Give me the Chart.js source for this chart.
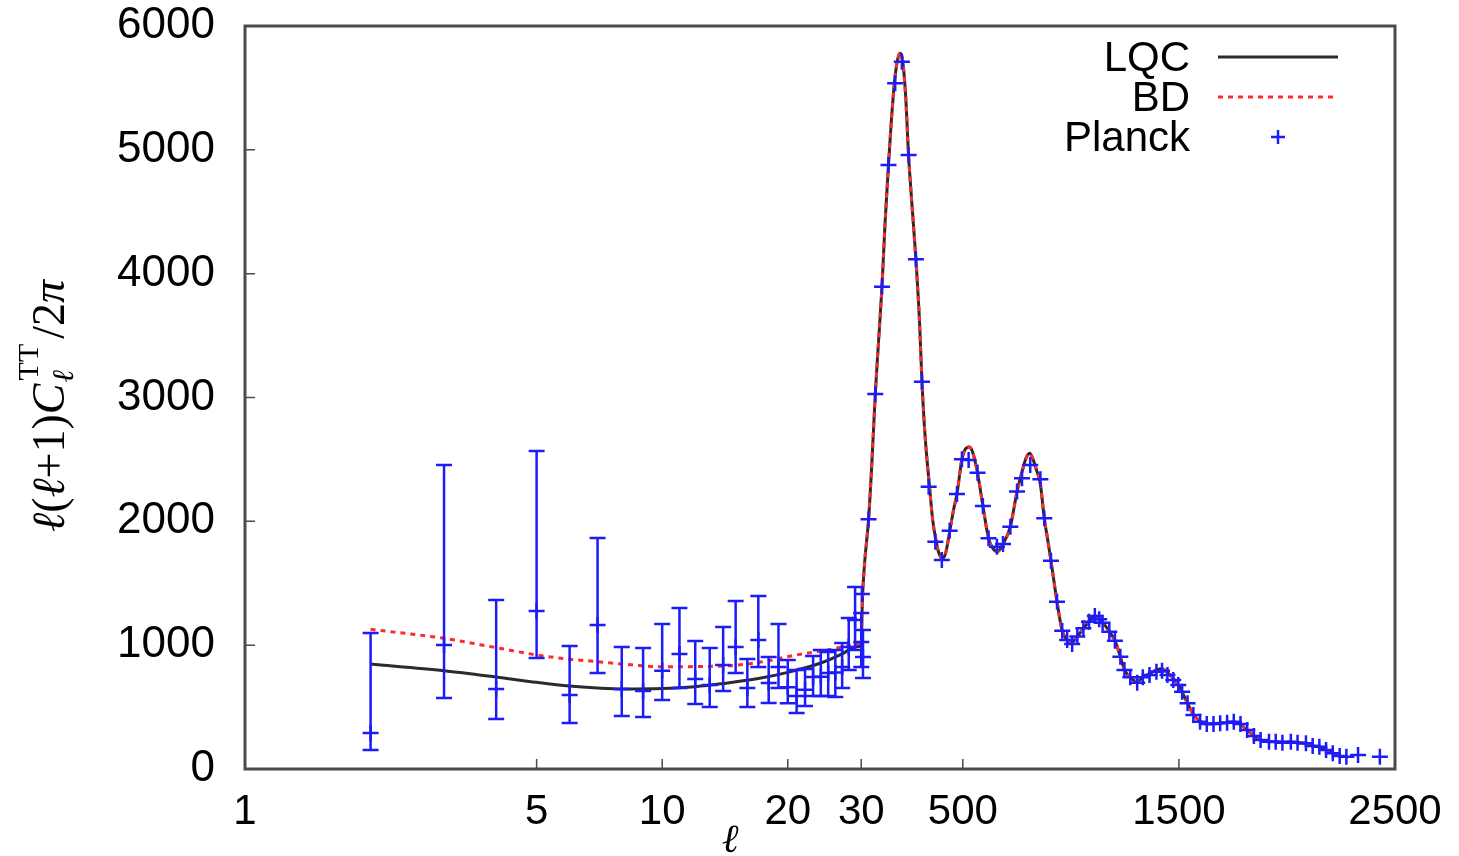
<!DOCTYPE html>
<html>
<head>
<meta charset="utf-8">
<title>TT power spectrum: LQC vs BD vs Planck</title>
<script src="https://cdn.jsdelivr.net/npm/chart.js@4.4.0/dist/chart.umd.min.js"></script>
<style>
  html, body { margin: 0; padding: 0; background: #ffffff; }
  #wrap { width: 1459px; height: 856px; }
</style>
</head>
<body>
<div id="wrap"><canvas id="clChart" width="1459" height="856"></canvas></div>
<script>
// ---- data ----
// low-l Planck points with asymmetric error bars
const lowEll   = [2, 3, 4, 5, 6, 7, 8, 9, 10, 11, 12, 13, 14, 15, 16, 17, 18, 19, 20, 21, 22, 23, 24, 25, 26, 27, 28, 29, 30, 38];
const lowVal   = [291, 1001, 646, 1276, 598, 1163, 646, 630, 793, 929, 727, 678, 840, 985, 654, 1042, 694, 824, 660, 590, 640, 743, 745, 775, 780, 824, 985, 1203, 1026, 904];
const lowErrLo = [153, 573, 404, 896, 371, 775, 428, 420, 557, 654, 525, 501, 630, 775, 501, 824, 533, 654, 530, 452, 509, 590, 590, 590, 581, 654, 800, 961, 824, 735];
const lowErrHi = [1098, 2455, 1365, 2568, 993, 1865, 985, 977, 1171, 1300, 1034, 977, 1147, 1357, 888, 1397, 904, 1171, 880, 800, 808, 913, 961, 945, 961, 1017, 1219, 1470, 1260, 1123];

// binned high-l Planck points
const highEll = [33, 64, 95, 126, 156, 187, 218, 249, 283, 311, 342, 373, 403, 439, 473, 496, 527, 568, 593, 619, 658, 686, 720, 751, 774, 812, 859, 877, 908, 936, 960, 983, 1006, 1030, 1058, 1084, 1111, 1131, 1147, 1178, 1204, 1229, 1248, 1275, 1307, 1333, 1364, 1396, 1422, 1447, 1474, 1497, 1515, 1540, 1567, 1598, 1629, 1660, 1691, 1723, 1754, 1785, 1816, 1847, 1878, 1917, 1948, 1979, 2018, 2049, 2088, 2119, 2150, 2181, 2212, 2244, 2275, 2329, 2430];
const highVal = [1413, 2016, 3028, 3895, 4878, 5537, 5712, 4958, 4116, 3128, 2280, 1836, 1688, 1924, 2221, 2501, 2495, 2393, 2124, 1863, 1795, 1817, 1957, 2240, 2348, 2455, 2340, 2024, 1682, 1351, 1117, 1042, 1009, 1069, 1136, 1190, 1236, 1209, 1182, 1109, 1036, 907, 800, 740, 697, 740, 759, 786, 794, 759, 719, 678, 624, 530, 436, 382, 363, 363, 369, 374, 382, 363, 315, 266, 234, 220, 220, 212, 220, 212, 207, 186, 180, 153, 127, 105, 99, 113, 99];

// model curves below l = 30 (where they differ)
const lqcEll = [2, 3, 4, 5, 6, 7, 8, 10, 12, 14, 17, 20, 24, 27, 29, 30];
const lqcVal = [848, 794, 743, 700, 670, 654, 646, 650, 665, 690, 730, 780, 856, 930, 985, 1000];
const bdEll  = [2, 3, 4, 5, 6, 7, 8, 10, 14, 17, 21, 25, 28, 30];
const bdVal  = [1128, 1055, 980, 921, 886, 867, 848, 826, 832, 860, 921, 961, 993, 1042];

// shared model curve above l = 30
const modelEll = [35, 45, 64, 80, 95, 110, 126, 140, 156, 170, 187, 200, 210, 220, 235, 249, 265, 283, 300, 311, 325, 346, 360, 377, 390, 405, 420, 440, 458, 473, 496, 515, 530, 545, 568, 593, 619, 640, 660, 686, 720, 751, 774, 795, 810, 825, 840, 859, 877, 893, 908, 936, 960, 983, 1000, 1030, 1058, 1084, 1111, 1131, 1150, 1178, 1204, 1229, 1248, 1275, 1307, 1333, 1364, 1396, 1422, 1447, 1474, 1497, 1515, 1540, 1567, 1598, 1629, 1660, 1691, 1723, 1754, 1785, 1816, 1847, 1878, 1917, 1948, 1979, 2018, 2049, 2088, 2119, 2150, 2181, 2212, 2244];
const modelVal = [1350, 1650, 2016, 2500, 3028, 3450, 3895, 4400, 4878, 5250, 5600, 5740, 5780, 5740, 5450, 4958, 4550, 4116, 3600, 3128, 2700, 2280, 2020, 1836, 1740, 1700, 1740, 1924, 2100, 2221, 2501, 2590, 2600, 2560, 2393, 2124, 1863, 1780, 1755, 1817, 1957, 2240, 2400, 2520, 2550, 2500, 2420, 2300, 2024, 1850, 1682, 1351, 1117, 1042, 1015, 1069, 1136, 1190, 1236, 1220, 1180, 1109, 1036, 907, 800, 740, 705, 740, 770, 800, 810, 780, 730, 680, 620, 530, 440, 385, 365, 365, 370, 378, 380, 360, 315, 270, 235, 220, 220, 215, 218, 212, 205, 188, 178, 155, 130, 110];

// axis ticks
const xTickEll    = [1, 5, 10, 20, 30, 500, 1500, 2500];
const xTickLabels = ['1', '5', '10', '20', '30', '500', '1500', '2500'];
const yTicks      = [0, 1000, 2000, 3000, 4000, 5000, 6000];

// ---- axis: log up to l=30, linear beyond ----
const LOG_END = 30;
const DECADES_PER_ELL = 0.216 / 417;
function ellToAxis(l) {
    return l <= LOG_END ? Math.log10(l) : Math.log10(LOG_END) + (l - LOG_END) * DECADES_PER_ELL;
}
function toPoints(ells, vals) {
    return ells.map((l, i) => ({ x: ellToAxis(l), y: vals[i] }));
}

const PLANCK_BLUE = 'rgb(28, 28, 250)';
const LQC_COLOR = '#2b2b2b';
const BD_COLOR = '#ff2a2a';
const SANS = '"Liberation Sans", Arial, Helvetica, sans-serif';
const SERIF = '"Liberation Serif", "DejaVu Serif", "Times New Roman", serif';

const planckPoints = toPoints(lowEll, lowVal).concat(toPoints(highEll, highVal));
const lqcPoints = toPoints(lqcEll, lqcVal).concat(toPoints(modelEll, modelVal));
const bdPoints = toPoints(bdEll, bdVal).concat(toPoints(modelEll, modelVal));

// error bars on the low-l points
const errorBars = {
    id: 'errorBars',
    afterDatasetsDraw(chart) {
        const { ctx, scales: { x, y } } = chart;
        ctx.save();
        ctx.strokeStyle = PLANCK_BLUE;
        ctx.lineWidth = 2.5;
        lowEll.forEach((l, i) => {
            const px = x.getPixelForValue(ellToAxis(l));
            const top = y.getPixelForValue(lowErrHi[i]);
            const bot = y.getPixelForValue(lowErrLo[i]);
            ctx.beginPath();
            ctx.moveTo(px, top); ctx.lineTo(px, bot);
            ctx.moveTo(px - 8, top); ctx.lineTo(px + 8, top);
            ctx.moveTo(px - 8, bot); ctx.lineTo(px + 8, bot);
            ctx.stroke();
        });
        ctx.restore();
    }
};

// gnuplot-like frame with inward ticks, axis titles and key
const frameAndKey = {
    id: 'frameAndKey',
    afterDraw(chart) {
        const { ctx, chartArea: a, scales: { x, y } } = chart;
        ctx.save();

        // frame
        ctx.strokeStyle = '#4a4a4a';
        ctx.lineWidth = 3;
        ctx.strokeRect(a.left, a.top, a.right - a.left, a.bottom - a.top);

        // inward ticks
        ctx.lineWidth = 1.5;
        ctx.beginPath();
        xTickEll.slice(1, -1).forEach(l => {
            const px = x.getPixelForValue(ellToAxis(l));
            ctx.moveTo(px, a.bottom); ctx.lineTo(px, a.bottom - 10);
        });
        yTicks.slice(1, -1).forEach(v => {
            const py = y.getPixelForValue(v);
            ctx.moveTo(a.left, py); ctx.lineTo(a.left + 10, py);
        });
        ctx.stroke();

        // x title
        ctx.fillStyle = '#000';
        ctx.font = 'italic 40px ' + SERIF;
        ctx.textAlign = 'center';
        ctx.textBaseline = 'alphabetic';
        ctx.fillText('\u2113', 730, 852);

        // y title, rotated, with sub/superscript
        const big = 46, small = 30;
        const it = s => 'italic ' + s + 'px ' + SERIF;
        const rm = s => s + 'px ' + SERIF;
        const pieces = [
            { t: '\u2113', f: it(big) }, { t: '(', f: rm(big) }, { t: '\u2113', f: it(big) },
            { t: '+1)', f: rm(big) }, { t: 'C', f: it(big) }
        ];
        const tail = [{ t: '/2', f: rm(big) }, { t: '\u03c0', f: it(big) }];
        const widthOf = p => { ctx.font = p.f; return ctx.measureText(p.t).width; };
        ctx.font = it(small); const subW = ctx.measureText('\u2113').width;
        ctx.font = rm(small); const supW = ctx.measureText('TT').width;
        const scriptW = Math.max(subW, supW) + 8;
        const total = pieces.reduce((s, p) => s + widthOf(p), 0) + scriptW + tail.reduce((s, p) => s + widthOf(p), 0);
        ctx.translate(64, 406);
        ctx.rotate(-Math.PI / 2);
        ctx.textAlign = 'left';
        let cx = -total / 2;
        pieces.forEach(p => { ctx.font = p.f; ctx.fillText(p.t, cx, 0); cx += ctx.measureText(p.t).width; });
        ctx.font = it(small); ctx.fillText('\u2113', cx + 1, 9);
        ctx.font = rm(small); ctx.fillText('TT', cx + 3, -26);
        cx += scriptW;
        tail.forEach(p => { ctx.font = p.f; ctx.fillText(p.t, cx, 0); cx += ctx.measureText(p.t).width; });
        ctx.setTransform(1, 0, 0, 1, 0, 0);

        // key (top right, text right-aligned, sample to the right)
        const keyTextRight = 1190, sampleL = 1218, sampleR = 1338;
        const rows = [57, 97, 137];
        ctx.font = '42px ' + SANS;
        ctx.textAlign = 'right';
        ctx.textBaseline = 'middle';
        ctx.fillStyle = '#000';
        chart.data.datasets.forEach(ds => {
            const row = rows[ds.keyRow];
            ctx.fillText(ds.label, keyTextRight, row + 2);
            ctx.beginPath();
            ctx.strokeStyle = ds.borderColor;
            if (ds.showLine === false) {
                const cxp = (sampleL + sampleR) / 2;
                ctx.lineWidth = 2.5;
                ctx.setLineDash([]);
                ctx.moveTo(cxp - 7, row); ctx.lineTo(cxp + 7, row);
                ctx.moveTo(cxp, row - 7); ctx.lineTo(cxp, row + 7);
            } else {
                ctx.lineWidth = 3;
                ctx.setLineDash(ds.borderDash || []);
                ctx.moveTo(sampleL, row); ctx.lineTo(sampleR, row);
            }
            ctx.stroke();
        });
        ctx.restore();
    }
};

const ctx = document.getElementById('clChart').getContext('2d');
new Chart(ctx, {
    type: 'scatter',
    data: {
        datasets: [
            {
                label: 'Planck',
                keyRow: 2,
                data: planckPoints,
                showLine: false,
                pointStyle: 'cross',
                pointRadius: 8,
                pointBorderWidth: 2.5,
                borderColor: PLANCK_BLUE,
                backgroundColor: PLANCK_BLUE
            },
            {
                label: 'BD',
                keyRow: 1,
                data: bdPoints,
                showLine: true,
                borderColor: BD_COLOR,
                borderWidth: 3,
                borderDash: [5, 5],
                pointRadius: 0,
                cubicInterpolationMode: 'monotone'
            },
            {
                label: 'LQC',
                keyRow: 0,
                data: lqcPoints,
                showLine: true,
                borderColor: LQC_COLOR,
                borderWidth: 3,
                pointRadius: 0,
                cubicInterpolationMode: 'monotone'
            }
        ]
    },
    options: {
        responsive: false,
        animation: false,
        layout: { padding: { left: 0, top: 26, right: 64, bottom: 0 } },
        plugins: {
            legend: { display: false },
            tooltip: { enabled: false }
        },
        scales: {
            x: {
                type: 'linear',
                min: ellToAxis(1),
                max: ellToAxis(2500),
                grid: { display: false, drawTicks: false },
                border: { display: false },
                afterBuildTicks: scale => { scale.ticks = xTickEll.map(l => ({ value: ellToAxis(l) })); },
                afterFit: scale => { scale.height = 87; scale.paddingLeft = 0; scale.paddingRight = 0; },
                ticks: {
                    autoSkip: false,
                    maxRotation: 0,
                    padding: 18,
                    color: '#000',
                    font: { family: SANS, size: 42 },
                    callback: (val, i) => xTickLabels[i]
                }
            },
            y: {
                min: 0,
                max: 6000,
                grid: { display: false, drawTicks: false },
                border: { display: false },
                afterBuildTicks: scale => { scale.ticks = yTicks.map(v => ({ value: v })); },
                afterFit: scale => { scale.width = 245; scale.paddingTop = 0; scale.paddingBottom = 0; },
                ticks: {
                    padding: 30,
                    color: '#000',
                    font: { family: SANS, size: 44 },
                    callback: v => String(v)
                }
            }
        }
    },
    plugins: [errorBars, frameAndKey]
});
</script>
</body>
</html>
